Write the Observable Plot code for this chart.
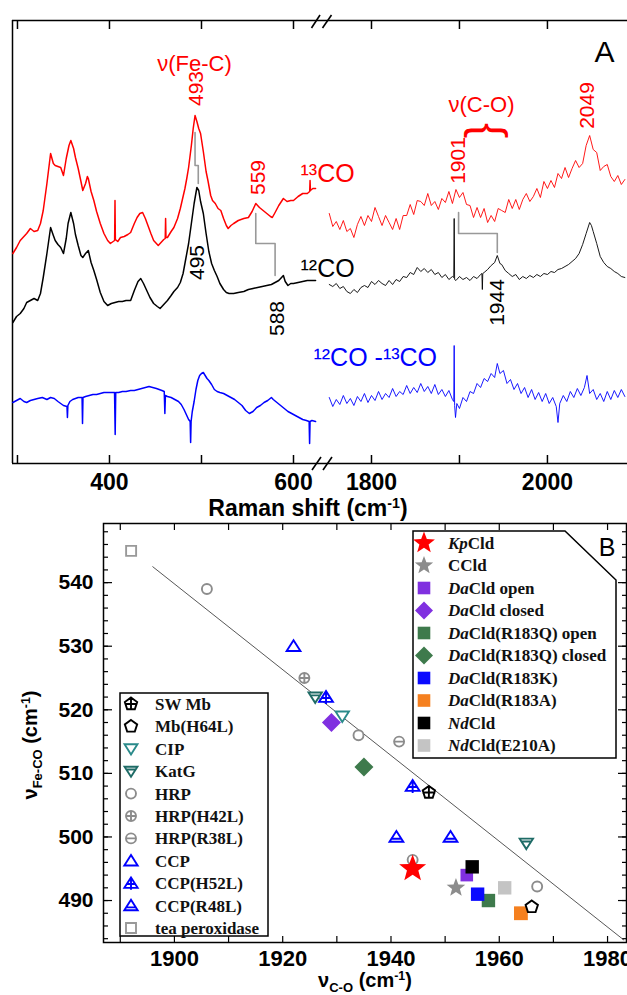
<!DOCTYPE html>
<html><head><meta charset="utf-8">
<script src="https://cdn.jsdelivr.net/npm/d3@7"></script>
<script src="https://cdn.jsdelivr.net/npm/@observablehq/plot@0.6"></script>
<style>
body{margin:0;background:#fff;}
#root{position:relative;width:627px;height:995px;overflow:hidden;background:#fff;font-family:"Liberation Sans",Arial,sans-serif;}
.ttl{position:absolute;white-space:nowrap;line-height:1;font-weight:bold;color:#000;}
.sup{position:relative;top:-0.55em;font-size:0.62em;}
.sub{position:relative;top:0.35em;font-size:0.65em;}
</style></head><body><div id="root"></div>
<script>
// ---------------- Panel A data: Raman spectra (w = Raman shift cm-1, i = intensity, arb. units) ----------------
const red13Low = [[295,210],[299,216],[303,223],[306,226],[310,230],[314,235],[318,232],[322,233],[325,240],[328,253],[332,280],[336,310],[339,300],[341,298],[344,297],[347,296],[350,288],[353,305],[356,318],[358,323],[361,315],[363,306],[366,295],[369,282],[371,273],[374,280],[376,287],[377,285],[380,272],[383,263],[386,252],[390,240],[394,230],[398,223],[401,220],[404,222],[405.6,223],[406,263],[406.4,224],[409,222],[412,226],[416,227],[420,229],[423,231],[427,240],[430,246],[433,250],[436,251],[439,245],[441,240],[445,230],[448,223],[451,220],[453,218],[456,221],[459,224],[460.6,225],[461,245],[461.4,226],[463,226],[467,232],[470,236],[474,245],[477,255],[479,263],[482,275],[484,285],[486,296],[489,318],[491,335],[493,348],[495,342],[497,335],[499,330],[502,312],[505,292],[507,283],[510,268],[512,263],[515,260],[518,255],[521,253],[524,245],[527,238],[529,235],[532,238],[535,240],[540,243],[546,245],[551,246],[555,252],[559,260],[563,256],[567,253],[571,250],[575,247],[577,246],[580,251],[584,258],[589,265],[593,262],[597,263],[600,263],[605,267],[610,270],[615,270],[617.6,272],[618,283],[618.4,273],[621,275],[624,275]];
const black12Low = [[295,141],[299,147],[303,150],[307,155],[310,161],[314,163],[318,165],[322,163],[325,170],[328,186],[332,210],[336,236],[339,228],[341,223],[344,219],[347,216],[350,210],[353,225],[355,240],[358,251],[361,240],[363,229],[366,218],[369,208],[371,206],[374,210],[377,213],[380,201],[383,193],[386,184],[390,171],[394,162],[398,158],[402,160],[406,161],[410,162],[414,162],[418,163],[423,163],[427,173],[431,182],[434,185],[437,180],[440,174],[444,166],[448,160],[452,157],[455,155],[458,158],[463,163],[467,168],[470,172],[474,176],[477,181],[480,190],[483,205],[486,220],[489,240],[492,260],[495,276],[497,273],[499,262],[502,250],[505,230],[508,212],[511,200],[514,193],[517,187],[520,180],[524,174],[527,171],[530,170],[535,170],[540,171],[546,172],[551,174],[556,175],[561,176],[566,177],[571,178],[576,179],[580,181],[584,183],[587,186],[589,188],[591,182],[594,178],[597,180],[600,180],[605,181],[610,182],[615,183],[620,183],[624,183]];
const blueDiffLow = [[295,61],[299,63],[303,65],[307,62],[310,61],[314,63],[318,64],[322,65],[327,66],[332,64],[336,66],[340,65],[344,62],[347,60],[350,58],[353.8,57],[354.3,46],[354.8,58],[357,62],[360,64],[363,65],[366,66],[370.2,66],[370.7,40],[371.2,66],[374,67],[378,68],[382,69],[386,69],[390,70],[394,71],[398,71],[402,71],[405.5,71],[406.2,29],[406.8,71],[410,71],[414,72],[418,72],[423,73],[427,73],[431,74],[435,75],[439,76],[443,77],[447,76],[451,75],[454,74],[457,73],[459.5,72],[460.2,50],[460.8,68],[463,67],[467,66],[471,64],[475,62],[478,59],[481,54],[484,48],[486,44],[487.7,42],[488.2,21],[488.7,42],[490,52],[492,62],[494,74],[496,83],[498,88],[500,90],[502,91],[504,88],[506,85],[508,83],[511,79],[514,74],[517,72],[520,71],[524,70],[528,68],[532,66],[536,64],[540,61],[544,58],[548,53],[552,50],[556,52],[560,56],[564,58],[568,61],[572,63],[576,66],[578,64],[582,61],[586,58],[590,55],[594,52],[598,50],[602,48],[606,46],[610,44],[614,43],[617,42],[617.5,20],[618,42],[620,43],[624,42]];
const red13High = [[1752,250],[1756,237],[1760,242],[1764,234],[1768,243],[1772,232],[1776,235],[1780,226],[1784,239],[1788,247],[1792,238],[1796,248],[1800,242],[1804,256],[1808,247],[1812,238],[1816,248],[1820,241],[1824,234],[1828,245],[1832,234],[1836,248],[1840,248],[1844,259],[1848,249],[1852,263],[1856,262],[1860,258],[1864,270],[1868,258],[1872,262],[1876,254],[1880,265],[1884,261],[1888,272],[1892,260],[1896,274],[1900,266],[1904,271],[1908,259],[1912,258],[1916,246],[1920,256],[1924,246],[1928,255],[1932,241],[1936,248],[1940,242],[1944,255],[1948,253],[1952,251],[1956,264],[1960,255],[1964,264],[1968,254],[1972,264],[1976,270],[1980,262],[1984,267],[1988,275],[1992,266],[1996,282],[2000,275],[2004,283],[2008,276],[2012,290],[2016,285],[2020,296],[2024,286],[2028,295],[2032,303],[2036,296],[2040,300],[2044,318],[2048,328],[2052,314],[2056,311],[2060,293],[2064,297],[2068,299],[2072,287],[2076,282],[2080,288],[2084,279],[2088,284]];
const black12High = [[1752,179],[1756,177],[1760,180],[1764,175],[1768,177],[1772,172],[1776,170],[1780,174],[1784,171],[1788,176],[1792,178],[1796,176],[1800,182],[1804,179],[1808,183],[1812,180],[1816,178],[1820,183],[1824,179],[1828,184],[1832,182],[1836,187],[1840,186],[1844,191],[1848,189],[1852,196],[1856,192],[1860,195],[1864,191],[1868,194],[1872,189],[1876,191],[1880,186],[1884,189],[1888,184],[1892,187],[1893.5,186],[1894,245],[1894.5,184],[1896,183],[1900,187],[1904,184],[1908,186],[1912,183],[1916,187],[1920,185],[1924,189],[1925.5,190],[1926,174],[1926.5,190],[1928,191],[1932,194],[1936,198],[1940,201],[1943,208],[1946,200],[1948,199],[1952,193],[1956,190],[1960,187],[1964,189],[1968,184],[1972,187],[1976,185],[1980,188],[1984,186],[1988,189],[1992,187],[1996,190],[2000,189],[2004,192],[2008,191],[2012,194],[2016,195],[2020,197],[2024,199],[2028,202],[2032,205],[2036,210],[2040,219],[2044,230],[2048,241],[2050,238],[2052,232],[2056,220],[2060,207],[2064,201],[2068,197],[2072,195],[2076,192],[2080,190],[2084,187],[2088,186]];
const blueDiffHigh = [[1752,66],[1756,57],[1760,64],[1764,59],[1768,68],[1772,60],[1776,65],[1780,58],[1784,67],[1788,62],[1792,70],[1796,61],[1800,68],[1804,63],[1808,72],[1812,64],[1816,70],[1820,66],[1824,75],[1828,67],[1832,72],[1836,69],[1840,78],[1844,70],[1848,76],[1852,71],[1856,80],[1860,72],[1864,77],[1868,70],[1872,79],[1876,69],[1880,74],[1884,67],[1888,73],[1892,64],[1893.5,62],[1894,118],[1894.5,58],[1895.5,46],[1897,60],[1900,55],[1904,66],[1908,62],[1912,72],[1916,70],[1920,80],[1924,76],[1928,85],[1932,82],[1936,90],[1940,86],[1943,100],[1946,90],[1950,93],[1954,80],[1958,84],[1962,74],[1966,80],[1970,70],[1974,76],[1978,66],[1982,74],[1986,64],[1990,71],[1994,62],[1998,70],[2002,60],[2006,66],[2010,57],[2012,41],[2014,60],[2018,68],[2022,62],[2026,72],[2030,66],[2034,75],[2038,68],[2042,76],[2045,88],[2048,70],[2052,74],[2056,64],[2060,70],[2064,62],[2068,72],[2072,64],[2076,73],[2080,66],[2084,74],[2088,67]];
// isotope-shift connectors
const shiftFeC1 = [[493,331],[493,298],[496.5,298],[496.5,280]];
const shiftFeC2 = [[559,250],[559,220],[580,220],[580,188]];
const shiftCO = [[1899,251],[1899,230],[1943,230],[1943,211]];
// axis ticks
const ticksLow = [300,400,500,600], labelsLow = [400,600];
const ticksHigh = [1800,1900,2000], labelsHigh = [1800,2000];
const domLow = [294.6,625], domHigh = [1737.5,2091];
// annotations
const RED="#ff0000", BLUE="#0000ff";
const wordsLow = [{w:492.4,i:400,t:"ν(Fe-C)",c:RED}];
const numsLow = [{w:494.6,i:375,t:"493",c:RED},{w:562,i:286,t:"559",c:RED},{w:495.7,i:201,t:"495",c:"#000"},{w:582.6,i:145,t:"588",c:"#000"}];
const isoLow = [{w:607.6,i:290,t:"¹³CO",c:RED},{w:607.6,i:195,t:"¹²CO",c:"#000"},{w:621.7,i:106,t:"¹²CO -¹³CO",c:BLUE}];
const wordsHigh = [{w:1925,i:359,t:"ν(C-O)",c:RED}];
const numsHigh = [{w:1898.9,i:303,t:"1901",c:RED},{w:2045.5,i:358,t:"2049",c:RED},{w:1943.2,i:161,t:"1944",c:"#000"}];
const braceHigh = [{w:1927.3,i:333,t:"}",c:RED}];
const panelA = [{w:2064.8,i:411,t:"A",c:"#000"}];

// ---------------- Panel B data ----------------
const ptName = ["tea peroxidase","HRP","CCP","HRP(H42L)","KatG","CCP(H52L)","CIP","DaCld closed","HRP","HRP(R38L)","DaCld(R183Q) closed","CCP(H52L)","SW Mb","CCP(R48L)","CCP(R48L)","KatG","HRP","KpCld","NdCld","DaCld open","CCld","NdCld(E210A)","HRP","DaCld(R183K)","DaCld(R183Q) open","Mb(H64L)","DaCld(R183A)"];
const ptCO   = [1892,1906,1922,1924,1926,1928,1931,1929,1934,1941.5,1935,1944,1947,1941,1951,1965,1944,1944,1955,1954,1952,1961,1967,1956,1958,1966,1964];
const ptFeCO = [545,539,530,525,522,522,519,518,516,515,511,508,507,500,500,499,496.4,495,495.3,494,492,492,492.2,491,490,489,488];
const fitCO = [1896,1983], fitFeCO = [542.5,483.8];
const refNames = ["SW Mb","Mb(H64L)","CIP","KatG","HRP","HRP(H42L)","HRP(R38L)","CCP","CCP(H52L)","CCP(R48L)","tea peroxidase"];
const cldNames = ["KpCld","CCld","DaCld open","DaCld closed","DaCld(R183Q) open","DaCld(R183Q) closed","DaCld(R183K)","DaCld(R183A)","NdCld","NdCld(E210A)"];
const cldItalic = ["Kp","","Da","Da","Da","Da","Da","Da","Nd","Nd"];
const cldRest = ["Cld","CCld","Cld open","Cld closed","Cld(R183Q) open","Cld(R183Q) closed","Cld(R183K)","Cld(R183A)","Cld","Cld(E210A)"];
const xTicksB = d3.range(1890,1990,10), xLabelsB = [1900,1920,1940,1960,1980];
const yMinorB = d3.range(484,550,2), yLabelsB = [490,500,510,520,530,540];

// ---------------- symbols ----------------
function mk(fn){ return {draw(c,size){ fn(c, Math.sqrt(size/Math.PI)); }}; }
const tri=(c,R,d)=>{c.moveTo(0,-d*R);c.lineTo(1.15*R,d*0.8*R);c.lineTo(-1.15*R,d*0.8*R);c.closePath();};
const circ=(c,R)=>{c.moveTo(R,0);c.arc(0,0,R,0,2*Math.PI);c.closePath();};
const pent=(c,R)=>{for(let k=0;k<5;k++){const a=-Math.PI/2+k*2*Math.PI/5;const x=R*Math.cos(a),y=R*Math.sin(a);k?c.lineTo(x,y):c.moveTo(x,y);}c.closePath();};
const SYM = {
  circle: mk(circ),
  circlePlus: mk((c,R)=>{circ(c,R);c.moveTo(-R,0);c.lineTo(R,0);c.moveTo(0,-R);c.lineTo(0,R);}),
  circleMinus: mk((c,R)=>{circ(c,R);c.moveTo(-R,0);c.lineTo(R,0);}),
  triUp: mk((c,R)=>tri(c,R,1)),
  triUpPlus: mk((c,R)=>{tri(c,R,1);c.moveTo(0,-R);c.lineTo(0,0.8*R+2);c.moveTo(-0.7*R,0.15*R);c.lineTo(0.7*R,0.15*R);}),
  triUpBar: mk((c,R)=>{tri(c,R,1);c.moveTo(-0.8*R,0.3*R);c.lineTo(0.8*R,0.3*R);}),
  triDown: mk((c,R)=>tri(c,R,-1)),
  triDownBar: mk((c,R)=>{tri(c,R,-1);c.moveTo(-0.8*R,-0.3*R);c.lineTo(0.8*R,-0.3*R);}),
  pent: mk(pent),
  pentPlus: mk((c,R)=>{pent(c,R);c.moveTo(-R,0);c.lineTo(R,0);c.moveTo(0,-R);c.lineTo(0,0.8*R);}),
  square: mk((c,R)=>{c.rect(-R,-R,2*R,2*R);}),
  diamond: mk((c,R)=>{c.moveTo(0,-R);c.lineTo(R,0);c.lineTo(0,R);c.lineTo(-R,0);c.closePath();}),
  star: mk((c,R)=>{const r2=0.42*R;for(let k=0;k<10;k++){const a=-Math.PI/2+k*Math.PI/5;const rr=k%2?r2:R;const x=rr*Math.cos(a),y=rr*Math.sin(a);k?c.lineTo(x,y):c.moveTo(x,y);}c.closePath();})
};
// style: [symbol, r in plot, r in legend, stroke, fill]
const GR="#8c8c8c";
const STY = {
  "SW Mb":["pentPlus",6.5,6.5,"#000","white"],
  "Mb(H64L)":["pent",6.5,6.5,"#000","white"],
  "CIP":["triDown",5.8,5.6,"#2a8a8a","white"],
  "KatG":["triDownBar",5.8,5.6,"#1e6b66","white"],
  "HRP":["circle",5,5,GR,"white"],
  "HRP(H42L)":["circlePlus",5,5,GR,"white"],
  "HRP(R38L)":["circleMinus",5,5,GR,"white"],
  "CCP":["triUp",6,5.8,BLUE,"white"],
  "CCP(H52L)":["triUpPlus",6,5.8,BLUE,"white"],
  "CCP(R48L)":["triUpBar",6,5.8,BLUE,"white"],
  "tea peroxidase":["square",5,5,"#999","white"],
  "KpCld":["star",14.2,11.5,"none",RED],
  "CCld":["star",9.8,9.6,"none","#8c8c8c"],
  "DaCld open":["square",6.3,6.3,"none","#8030e0"],
  "DaCld closed":["diamond",9.5,9,"none","#8030e0"],
  "DaCld(R183Q) open":["square",6.7,6.3,"none","#3e7a4c"],
  "DaCld(R183Q) closed":["diamond",9.5,9,"none","#3e7a4c"],
  "DaCld(R183K)":["square",6.7,6.3,"none","#0a0aff"],
  "DaCld(R183A)":["square",6.9,6.3,"none","#f5801f"],
  "NdCld":["square",6.7,6.3,"none","#000"],
  "NdCld(E210A)":["square",6.7,6.3,"none","#c4c4c4"]
};

// ---------------- build ----------------
const W = 627;
const FONT = '"Liberation Sans", Arial, sans-serif';
const root = document.getElementById("root");
function place(el,left,top){el.style.position="absolute";el.style.left=left+"px";el.style.top=top+"px";root.appendChild(el);return el;}
const baseStyle = {background:"transparent",overflow:"visible",fontFamily:FONT};
const rows = a => a.map(([w,i])=>({w,i}));
const plain = d => `${d}`;

function spectrum(dom, rng, ticks, labels, spectra, shifts, texts, leftLine){
  const marks = [
    Plot.ruleY([0,443],{x1:dom[0],x2:dom[1],stroke:"#000",strokeWidth:1.5}),
    Plot.axisX({anchor:"top",ticks,tickSize:-8,tickFormat:()=>"",strokeWidth:1.5}),
    Plot.axisX({anchor:"bottom",ticks,tickSize:-8,tickFormat:()=>"",strokeWidth:1.5}),
    Plot.axisX({anchor:"bottom",ticks:labels,tickSize:0,tickPadding:10,tickFormat:plain,fontSize:23,fontWeight:"bold",fill:"#000"})
  ];
  if (leftLine) marks.push(Plot.ruleX([dom[0]],{y1:0,y2:443,stroke:"#000",strokeWidth:1.5}));
  for (const s of shifts) marks.push(Plot.line(rows(s),{x:"w",y:"i",stroke:"#999",strokeWidth:1.6}));
  for (const [d,col,sw] of spectra) marks.push(Plot.line(rows(d),{x:"w",y:"i",stroke:col,strokeWidth:sw}));
  for (const [d,o] of texts) marks.push(Plot.text(d,{x:"w",y:"i",text:"t",fill:"c",...o}));
  return Plot.plot({width:W,height:515,marginTop:20,marginBottom:52,marginLeft:12,marginRight:0,style:baseStyle,
    x:{domain:dom,range:rng,label:null},
    y:{domain:[0,443],range:[463,20],axis:null},
    color:{type:"identity"},
    marks});
}
const pLow = spectrum(domLow,[12,316],ticksLow,labelsLow,
  [[red13Low,RED,1.5],[black12Low,"#000",1.5],[blueDiffLow,BLUE,1.5]],
  [shiftFeC1,shiftFeC2],
  [[wordsLow,{fontSize:22}],[numsLow,{fontSize:21,rotate:-90}],[isoLow,{fontSize:25,textAnchor:"start"}]], true);
const pHigh = spectrum(domHigh,[316,627],ticksHigh,labelsHigh,
  [[red13High,RED,0.9],[black12High,"#000",0.9],[blueDiffHigh,BLUE,0.9]],
  [shiftCO],
  [[wordsHigh,{fontSize:22}],[numsHigh,{fontSize:21,rotate:-90}],[braceHigh,{fontSize:46,rotate:-90}],[panelA,{fontSize:30}]], false);
place(pLow,0,0); place(pHigh,0,0);

// axis-break marks
const brk = d3.create("svg").attr("width",W).attr("height",515).style("overflow","visible");
[[311.5,28,320,15],[322.5,28,331.5,15],[312,470,321,457],[323,470,332,457]].forEach(([a,b,c,d])=>
  brk.append("line").attr("x1",a).attr("y1",b).attr("x2",c).attr("y2",d).attr("stroke","#000").attr("stroke-width",1.6));
place(brk.node(),0,0);

const tA = document.createElement("div"); tA.className="ttl"; tA.style.fontSize="23px";
tA.innerHTML='Raman shift (cm<span class="sup">-1</span>)';
place(tA,308,497); tA.style.transform="translateX(-50%)";

// ---------------- Panel B ----------------
const ptRows = ptName.map((n,k)=>({n,co:ptCO[k],fe:ptFeCO[k]}));
const fitRows = fitCO.map((c,k)=>({co:c,fe:fitFeCO[k]}));
function dotsFor(name){
  const [s,r,,st,fi] = STY[name];
  return Plot.dot(ptRows.filter(d=>d.n===name),{x:"co",y:"fe",symbol:SYM[s],r,stroke:st,fill:fi,strokeWidth:1.9});
}
const layer1 = cldNames.filter(n=>STY[n][0]!=="star");
const layer3 = cldNames.filter(n=>STY[n][0]==="star").reverse();
const pB = Plot.plot({width:W,height:480,marginTop:8,marginBottom:53,marginLeft:103,marginRight:1,style:baseStyle,
  x:{domain:[1886.9,1983.5],range:[103,626],label:null},
  y:{domain:[483.4,549.3],range:[427,8],label:null},
  marks:[
    Plot.axisX({anchor:"bottom",ticks:xTicksB,tickSize:-6,tickFormat:()=>"",strokeWidth:1.2}),
    Plot.axisX({anchor:"top",ticks:xTicksB,tickSize:-6,tickFormat:()=>"",strokeWidth:1.2}),
    Plot.axisX({anchor:"bottom",ticks:xLabelsB,tickSize:0,tickPadding:8,tickFormat:plain,fontSize:22,fontWeight:"bold",fill:"#000"}),
    Plot.axisY({anchor:"left",ticks:yMinorB,tickSize:-5,tickFormat:()=>"",strokeWidth:1.2}),
    Plot.axisY({anchor:"left",ticks:yLabelsB,tickSize:-9,tickFormat:()=>"",strokeWidth:1.2}),
    Plot.axisY({anchor:"right",ticks:yMinorB,tickSize:-5,tickFormat:()=>"",strokeWidth:1.2}),
    Plot.axisY({anchor:"right",ticks:yLabelsB,tickSize:-9,tickFormat:()=>"",strokeWidth:1.2}),
    Plot.axisY({anchor:"left",ticks:yLabelsB,tickSize:0,tickPadding:10,tickFormat:plain,fontSize:21,fontWeight:"bold",fill:"#000"}),
    Plot.frame({stroke:"#000",strokeWidth:1.5}),
    Plot.line(fitRows,{x:"co",y:"fe",stroke:"#444",strokeWidth:0.9}),
    ...layer1.map(dotsFor),
    ...refNames.map(dotsFor),
    ...layer3.map(dotsFor)
  ]});
place(pB,0,515);

// legends (panel-B local coordinates)
const leg = d3.create("svg").attr("width",W).attr("height",480).style("overflow","visible");
leg.append("rect").attr("x",120).attr("y",178).attr("width",148).attr("height",243).attr("fill","white").attr("stroke","#000").attr("stroke-width",1.5);
leg.append("path").attr("d","M413,16H565L616,65V243H413Z").attr("fill","white").attr("stroke","#000").attr("stroke-width",1.5);
function legSym(g,name,x,y){
  const [s,,r,st,fi] = STY[name];
  g.append("path").attr("transform",`translate(${x},${y})`)
   .attr("d",d3.symbol().type(SYM[s]).size(Math.PI*r*r)())
   .attr("fill",fi).attr("stroke",st).attr("stroke-width",1.9);
}
refNames.forEach((n,k)=>{
  const y=189+k*22.4;
  legSym(leg,n,131,y);
  leg.append("text").attr("x",155).attr("y",y).attr("dy","0.35em").attr("font-family",'"Liberation Serif",serif')
    .attr("font-weight","bold").attr("font-size",17).attr("fill","#111").text(n);
});
cldNames.forEach((n,k)=>{
  const y=28+k*22.5;
  legSym(leg,n,424,y);
  const t=leg.append("text").attr("x",448).attr("y",y).attr("dy","0.35em").attr("font-family",'"Liberation Serif",serif')
    .attr("font-weight","bold").attr("font-size",17).attr("fill","#111");
  if (cldItalic[k]) t.append("tspan").attr("font-style","italic").text(cldItalic[k]);
  t.append("tspan").text(cldRest[k]);
});
leg.append("text").attr("x",607).attr("y",32).attr("dy","0.35em").attr("text-anchor","middle").attr("font-family",FONT).attr("font-size",25).text("B");
place(leg.node(),0,515);

const tBx = document.createElement("div"); tBx.className="ttl"; tBx.style.fontSize="20px";
tBx.innerHTML='ν<span class="sub">C-O</span> (cm<span class="sup">-1</span>)';
place(tBx,365,970); tBx.style.transform="translateX(-50%)";
const tBy = document.createElement("div"); tBy.className="ttl"; tBy.style.fontSize="20px";
tBy.innerHTML='ν<span class="sub">Fe-CO</span> (cm<span class="sup">-1</span>)';
place(tBy,30,745); tBy.style.transform="translate(-50%,-50%) rotate(-90deg)";
</script></body></html>
